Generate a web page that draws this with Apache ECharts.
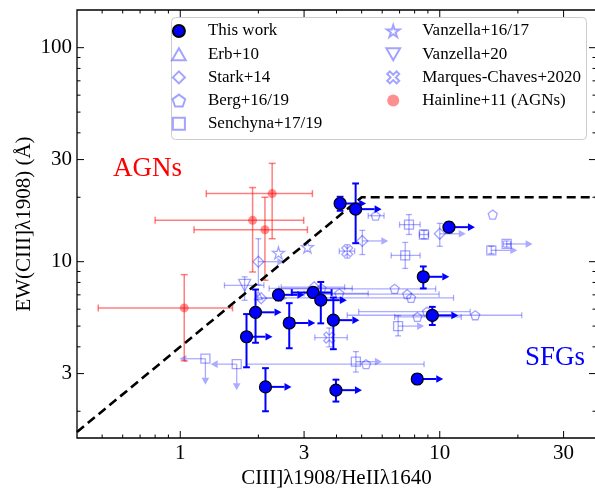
<!DOCTYPE html>
<html><head><meta charset="utf-8">
<script src="https://cdn.jsdelivr.net/npm/echarts@6/dist/echarts.min.js"></script>
<style>html,body{margin:0;padding:0;background:#fff;}#c{width:595px;height:489px;}</style>
</head><body><div id="c"></div>
<script>
// ---------- axes ----------
const X_MIN = 0.4, X_MAX = 40, Y_MIN = 1.5, Y_MAX = 150;
const xMajorTicks = [1, 3, 10, 30];
const xTickLabels = ['1', '3', '10', '30'];
const xMinorTicks = [0.5, 0.6, 0.7, 0.8, 0.9, 2, 4, 5, 6, 7, 8, 9, 20];
const yMajorTicks = [3, 10, 30, 100];
const yTickLabels = ['3', '10', '30', '100'];
const yMinorTicks = [2, 4, 5, 6, 7, 8, 9, 20, 40, 50, 60, 70, 80, 90];

// ---------- dividing line ----------
const divX = [0.4, 5, 40];
const divY = [1.6, 20, 20];

// ---------- This work (lim: 1 = lower limit arrow to right) ----------
const thisX   = [4.13, 4.74, 10.85, 8.64, 2.39, 3.25, 3.48, 3.89, 2.63, 1.95, 1.80, 2.13, 3.98, 8.19, 9.36];
const thisY   = [18.7, 17.6, 14.5, 8.5, 7.0, 7.18, 6.61, 5.33, 5.17, 5.8, 4.46, 2.60, 2.51, 2.83, 5.61];
const thisYLo = [17.3, 12.2, 13.7, 7.5, 6.6, 6.95, 5.15, 3.9, 3.94, 4.18, 3.21, 2.0, 2.22, 2.68, 5.06];
const thisYHi = [20.1, 23.2, 15.3, 9.5, 7.35, 7.4, 8.04, 6.8, 6.4, 7.41, 5.69, 3.18, 2.81, 2.98, 6.15];
const thisXLo = [0, 0, 0, 0, 0, 2.69, 0, 0, 0, 0, 0, 0, 0, 0, 0];
const thisXHi = [0, 0, 0, 0, 0, 3.83, 0, 0, 0, 0, 0, 0, 0, 0, 0];
const thisLim = [1, 1, 1, 1, 1, 0, 1, 1, 1, 1, 1, 1, 1, 1, 1];

// ---------- Hainline+11 (AGNs) ----------
const hainX   = [1.90, 2.26, 2.12, 1.036];
const hainY   = [15.6, 20.8, 14.1, 6.08];
const hainXLo = [0.80, 1.26, 1.13, 0.483];
const hainXHi = [2.99, 3.23, 3.09, 1.59];
const hainYLo = [8.95, 12.8, 8.19, 3.44];
const hainYHi = [22.2, 28.8, 20.0, 8.7];

// ---------- comparison samples (lim: 1 = right arrow, 2 = left + down arrows) ----------
const erbX = [2.0], erbY = [6.95];

const starkX   = [2.0, 5.03, 10.0, 2.05, 3.28];
const starkY   = [10.0, 12.5, 13.5, 6.75, 7.6];
const starkXLo = [0, 0, 0, 0, 2.45];
const starkXHi = [0, 0, 0, 0, 4.3];
const starkYLo = [7.8, 10.8, 11.8, 0, 0];
const starkYHi = [12.8, 14.0, 15.1, 0, 0];
const starkLim = [1, 1, 1, 1, 0];

const bergX   = [5.66, 16.0, 6.70, 7.49, 7.75, 8.93, 8.2, 13.7, 5.2, 4.1, 3.5];
const bergY   = [16.4, 16.6, 7.47, 7.05, 6.78, 5.84, 5.52, 5.62, 3.32, 7.1, 7.5];
const bergXLo = [5.3, 0, 2.40, 3.54, 1.99, 4.87, 6.7, 4.4, 1.8, 3.0, 2.2];
const bergXHi = [6.1, 0, 9.64, 9.94, 11.3, 13.1, 12.1, 20.7, 8.7, 5.3, 4.6];

const senX   = [15.8, 6.91, 1.25, 1.65, 4.75, 7.61, 8.69, 7.36, 18.1];
const senY   = [11.3, 5.0, 3.52, 3.32, 3.41, 14.9, 13.4, 10.7, 12.1];
const senXLo = [0, 0, 0, 0, 0, 7.0, 8.35, 6.5, 17.6];
const senXHi = [0, 0, 0, 0, 0, 8.4, 9.05, 8.4, 18.8];
const senYLo = [10.9, 4.5, 0, 0, 3.05, 13.4, 12.8, 9.3, 11.7];
const senYHi = [11.8, 5.6, 0, 0, 3.8, 16.6, 14.0, 12.3, 12.5];
const senLim = [1, 1, 2, 2, 1, 0, 0, 0, 1];

const van16X = [2.39, 3.09], van16Y = [11.0, 11.7];

const van20X = [1.77], van20Y = [7.75];
const van20XLo = [1.48], van20XHi = [2.1], van20YLo = [6.6], van20YHi = [8.5];

const marqX   = [4.4, 3.75];
const marqY   = [11.2, 4.42];
const marqXLo = [4.1, 3.3], marqXHi = [4.7, 4.4];
const marqYLo = [10.4, 4.0], marqYHi = [12.0, 4.9];

// ---------- helpers ----------
function zeros(n) { return new Array(n).fill(0); }
function rows(xs, ys, xlo, xhi, ylo, yhi, lim) {
  const n = xs.length;
  xlo = xlo || zeros(n); xhi = xhi || zeros(n); ylo = ylo || zeros(n); yhi = yhi || zeros(n); lim = lim || zeros(n);
  return xs.map((x, i) => [x, ys[i], xlo[i], xhi[i], ylo[i], yhi[i], lim[i]]);
}
function pts(xs, ys) { return xs.map((x, i) => [x, ys[i]]); }

function errRenderer(color, lw, cap, arrowLen, headLen, headW) {
  return function (params, api) {
    const x = api.value(0), y = api.value(1);
    const xlo = api.value(2), xhi = api.value(3), ylo = api.value(4), yhi = api.value(5), lim = api.value(6);
    const c = api.coord([x, y]);
    const kids = [];
    const st = { stroke: color, lineWidth: lw, fill: null };
    function seg(x1, y1, x2, y2) { kids.push({ type: 'line', shape: { x1, y1, x2, y2 }, style: st }); }
    function arrow(dx, dy) {
      const tx = c[0] + dx * arrowLen, ty = c[1] + dy * arrowLen;
      const bx = tx - dx * headLen, by = ty - dy * headLen;
      seg(c[0], c[1], bx, by);
      kids.push({ type: 'polygon', shape: { points: [[tx, ty], [bx - dy * headW, by + dx * headW], [bx + dy * headW, by - dx * headW]] }, style: { fill: color, stroke: null } });
    }
    if (xlo > 0) {
      const a = api.coord([xlo, y]), b = api.coord([xhi, y]);
      seg(a[0], c[1], b[0], c[1]);
      seg(a[0], c[1] - cap, a[0], c[1] + cap);
      seg(b[0], c[1] - cap, b[0], c[1] + cap);
    }
    if (ylo > 0) {
      const a = api.coord([x, ylo]), b = api.coord([x, yhi]);
      seg(c[0], a[1], c[0], b[1]);
      seg(c[0] - cap, a[1], c[0] + cap, a[1]);
      seg(c[0] - cap, b[1], c[0] + cap, b[1]);
    }
    if (lim === 1) arrow(1, 0);
    if (lim === 2) { arrow(-1, 0); arrow(0, 1); }
    return { type: 'group', children: kids };
  };
}

const FONT = '"Liberation Serif", "DejaVu Serif", serif';
const LAV = 'rgba(0,0,255,0.33)';
const LAV_M = 'rgba(0,0,255,0.36)';
const RED = 'rgba(255,0,0,0.5)';
const CLEAR = 'rgba(255,255,255,0)';

const SYM_STAR = 'path://M50,0 L61,35 L98,35 L68,57 L79,91 L50,70 L21,91 L32,57 L2,35 L39,35 Z';
const SYM_PENT = 'path://M50,0 L98,35 L79,91 L21,91 L2,35 Z';
const SYM_INVTRI = 'path://M0,0 L100,0 L50,87 Z';
const SYM_TRI = 'path://M50,0 L100,87 L0,87 Z';
const SYM_DIAM = 'path://M50,0 L100,50 L50,100 L0,50 Z';
const SYM_SQ = 'path://M0,0 L100,0 L100,100 L0,100 Z';
const SYM_X = 'path://M22,0 L50,28 L78,0 L100,22 L72,50 L100,78 L78,100 L50,72 L22,100 L0,78 L28,50 L0,22 Z';

function errSeries(data, color, lw, cap, z) {
  return {
    type: 'custom', data: data, encode: { x: 0, y: 1 }, z: z, silent: true,
    renderItem: errRenderer(color, lw, cap, 26, 7, 3.8)
  };
}
function hollow(name, data, symbol, size, z) {
  return {
    name: name, type: 'scatter', data: data, symbol: symbol, symbolSize: size, z: z, silent: true,
    itemStyle: { color: CLEAR, borderColor: LAV_M, borderWidth: 1.3, opacity: 1 }
  };
}

const tickSeries = {
  type: 'custom', data: [[1, 10]], encode: { x: 0, y: 1 }, z: 20, silent: true, clip: false,
  renderItem: function (params, api) {
    const kids = [];
    const bl = api.coord([X_MIN, Y_MIN]), tr = api.coord([X_MAX, Y_MAX]);
    const left = bl[0], bottom = bl[1], right = tr[0], top = tr[1];
    const st = { stroke: '#000', lineWidth: 1, fill: null };
    function seg(x1, y1, x2, y2) { kids.push({ type: 'line', shape: { x1, y1, x2, y2 }, style: st }); }
    function txt(s, x, y, align) {
      kids.push({ type: 'text', style: { text: s, x: x, y: y, fill: '#000', font: '21px ' + FONT,
        align: align, verticalAlign: 'middle', textAlign: align, textVerticalAlign: 'middle' } });
    }
    xMajorTicks.forEach((v, i) => {
      const px = api.coord([v, Y_MIN])[0];
      seg(px, bottom, px, bottom - 7); seg(px, top, px, top + 7);
      txt(xTickLabels[i], px, bottom + 15, 'center');
    });
    xMinorTicks.forEach(v => {
      const px = api.coord([v, Y_MIN])[0];
      seg(px, bottom, px, bottom - 3.5); seg(px, top, px, top + 3.5);
    });
    yMajorTicks.forEach((v, i) => {
      const py = api.coord([X_MIN, v])[1];
      seg(left, py, left + 7, py); seg(right, py, right - 7, py);
      txt(yTickLabels[i], left - 5, py, 'right');
    });
    yMinorTicks.forEach(v => {
      const py = api.coord([X_MIN, v])[1];
      seg(left, py, left + 3.5, py); seg(right, py, right - 3.5, py);
    });
    return { type: 'group', children: kids };
  }
};

const chart = echarts.init(document.getElementById('c'), null, { renderer: 'canvas' });
chart.setOption({
  animation: false,
  backgroundColor: '#fff',
  grid: { left: 77, top: 10, width: 519, height: 428, show: true, borderColor: '#000', borderWidth: 1.3, backgroundColor: 'transparent', containLabel: false, outerBoundsMode: 'none' },
  xAxis: {
    type: 'log', logBase: 10, min: X_MIN, max: X_MAX,
    axisLine: { show: false }, axisTick: { show: false }, axisLabel: { show: false }, splitLine: { show: false },
    name: 'CIII]λ1908/HeIIλ1640', nameLocation: 'middle', nameGap: 30,
    nameTextStyle: { fontFamily: FONT, fontSize: 21, color: '#000' }
  },
  yAxis: {
    type: 'log', logBase: 10, min: Y_MIN, max: Y_MAX,
    axisLine: { show: false }, axisTick: { show: false }, axisLabel: { show: false }, splitLine: { show: false },
    name: 'EW(CIII]λ1908) (Å)', nameLocation: 'middle', nameGap: 42,
    nameTextStyle: { fontFamily: FONT, fontSize: 21, color: '#000' }
  },
  legend: [
    {
      orient: 'vertical', left: 171, top: 22, padding: 0, itemGap: 5.2, itemWidth: 48, itemHeight: 12,
      textStyle: { fontFamily: FONT, fontSize: 17, color: '#000', lineHeight: 18 },
      data: ['This work', 'Erb+10', 'Stark+14', 'Berg+16/19', 'Senchyna+17/19'], selectedMode: false
    },
    {
      orient: 'vertical', right: 14, top: 22, padding: 0, itemGap: 5.2, itemWidth: 48, itemHeight: 12,
      textStyle: { fontFamily: FONT, fontSize: 17, color: '#000', lineHeight: 18 },
      data: ['Vanzella+16/17', 'Vanzella+20', 'Marques-Chaves+2020', 'Hainline+11 (AGNs)'], selectedMode: false
    }
  ],
  graphic: [
    { type: 'rect', z: -1, shape: { x: 171.5, y: 17.5, width: 415, height: 122, r: 4 },
      style: { fill: 'rgba(255,255,255,0.8)', stroke: '#cccccc', lineWidth: 1 } },
    { type: 'text', x: 113, y: 169, style: { text: 'AGNs', fill: '#ff0000', font: '27px ' + FONT,
      align: 'left', verticalAlign: 'middle', textAlign: 'left', textVerticalAlign: 'middle' } },
    { type: 'text', x: 525, y: 358, style: { text: 'SFGs', fill: '#0000ff', font: '27px ' + FONT,
      align: 'left', verticalAlign: 'middle', textAlign: 'left', textVerticalAlign: 'middle' } }
  ],
  series: [
    // comparison error bars
    errSeries(rows(starkX, starkY, starkXLo, starkXHi, starkYLo, starkYHi, starkLim), LAV, 1.3, 3, 2),
    errSeries(rows(bergX, bergY, bergXLo, bergXHi), LAV, 1.3, 3, 2),
    errSeries(rows(senX, senY, senXLo, senXHi, senYLo, senYHi, senLim), LAV, 1.3, 3, 2),
    errSeries(rows(van20X, van20Y, van20XLo, van20XHi, van20YLo, van20YHi), LAV, 1.3, 3, 2),
    errSeries(rows(marqX, marqY, marqXLo, marqXHi, marqYLo, marqYHi), LAV, 1.3, 3, 2),
    // comparison markers
    hollow('Erb+10', pts(erbX, erbY), SYM_TRI, 8, 3),
    hollow('Stark+14', pts(starkX, starkY), SYM_DIAM, 11, 3),
    hollow('Berg+16/19', pts(bergX, bergY), SYM_PENT, 9, 3),
    hollow('Senchyna+17/19', pts(senX, senY), SYM_SQ, 9, 3),
    hollow('Vanzella+16/17', pts(van16X, van16Y), SYM_STAR, 12, 3),
    hollow('Vanzella+20', pts(van20X, van20Y), SYM_INVTRI, 12, 3),
    hollow('Marques-Chaves+2020', pts(marqX, marqY), SYM_X, 11, 3),
    // Hainline
    errSeries(rows(hainX, hainY, hainXLo, hainXHi, hainYLo, hainYHi), RED, 1.5, 3.5, 4),
    {
      name: 'Hainline+11 (AGNs)', type: 'scatter', data: pts(hainX, hainY), symbol: 'circle', symbolSize: 9, z: 5, silent: true,
      itemStyle: { color: 'rgba(255,0,0,0.55)', borderWidth: 0 }
    },
    // dividing line
    {
      type: 'line', data: pts(divX, divY), symbol: 'none', z: 6, silent: true,
      lineStyle: { color: '#000', width: 2.6, type: [9, 5] }
    },
    // This work
    errSeries(rows(thisX, thisY, thisXLo, thisXHi, thisYLo, thisYHi, thisLim), '#0000ff', 2, 3.4, 7),
    {
      name: 'This work', type: 'scatter', data: pts(thisX, thisY), symbol: 'circle', symbolSize: 12, z: 8, silent: true,
      itemStyle: { color: '#0000ff', borderColor: '#000', borderWidth: 1.2, opacity: 1 }
    },
    tickSeries
  ]
});
</script>
</body></html>
